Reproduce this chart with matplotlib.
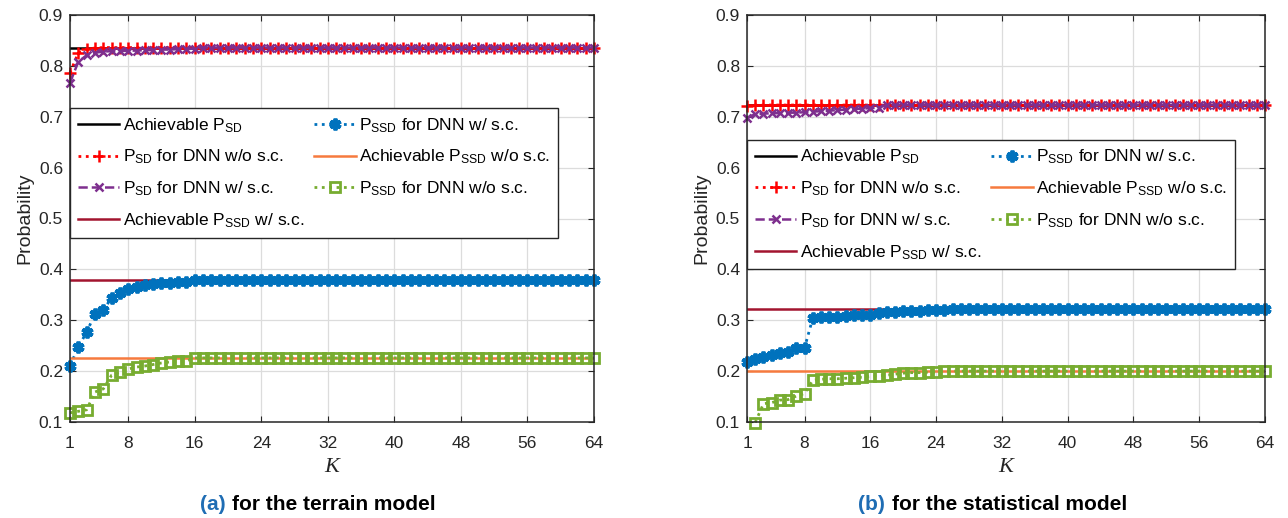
import numpy as np
import matplotlib
matplotlib.use("Agg")
from matplotlib import pyplot as plt

plt.rcParams['font.family'] = ['Liberation Sans', 'DejaVu Sans']
plt.rcParams['mathtext.default'] = 'regular'

K = np.arange(1, 65)
x_ticks = [1, 8, 16, 24, 32, 40, 48, 56, 64]
y_ticks = [0.1, 0.2, 0.3, 0.4, 0.5, 0.6, 0.7, 0.8, 0.9]

# (a) terrain model
psd_ach_a = 0.836
psd_wo_a = [0.786, 0.826, 0.833, 0.835, 0.836, 0.836, 0.836, 0.836,
            0.836, 0.836, 0.836, 0.836, 0.836, 0.836, 0.836, 0.836,
            0.836, 0.836, 0.836, 0.836, 0.836, 0.836, 0.836, 0.836,
            0.836, 0.836, 0.836, 0.836, 0.836, 0.836, 0.836, 0.836,
            0.836, 0.836, 0.836, 0.836, 0.836, 0.836, 0.836, 0.836,
            0.836, 0.836, 0.836, 0.836, 0.836, 0.836, 0.836, 0.836,
            0.836, 0.836, 0.836, 0.836, 0.836, 0.836, 0.836, 0.836,
            0.836, 0.836, 0.836, 0.836, 0.836, 0.836, 0.836, 0.836]
psd_w_a = [0.767, 0.808, 0.821, 0.826, 0.828, 0.829, 0.829, 0.830,
           0.830, 0.831, 0.831, 0.832, 0.832, 0.833, 0.833, 0.834,
           0.836, 0.836, 0.836, 0.836, 0.836, 0.836, 0.836, 0.836,
           0.836, 0.836, 0.836, 0.836, 0.836, 0.836, 0.836, 0.836,
           0.836, 0.836, 0.836, 0.836, 0.836, 0.836, 0.836, 0.836,
           0.836, 0.836, 0.836, 0.836, 0.836, 0.836, 0.836, 0.836,
           0.836, 0.836, 0.836, 0.836, 0.836, 0.836, 0.836, 0.836,
           0.836, 0.836, 0.836, 0.836, 0.836, 0.836, 0.836, 0.836]
pssd_ach_ws_a = 0.380
pssd_w_a = [0.211, 0.247, 0.277, 0.312, 0.320, 0.344, 0.354, 0.362,
            0.365, 0.369, 0.371, 0.373, 0.374, 0.375, 0.376, 0.380,
            0.380, 0.380, 0.380, 0.380, 0.380, 0.380, 0.380, 0.380,
            0.380, 0.380, 0.380, 0.380, 0.380, 0.380, 0.380, 0.380,
            0.380, 0.380, 0.380, 0.380, 0.380, 0.380, 0.380, 0.380,
            0.380, 0.380, 0.380, 0.380, 0.380, 0.380, 0.380, 0.380,
            0.380, 0.380, 0.380, 0.380, 0.380, 0.380, 0.380, 0.380,
            0.380, 0.380, 0.380, 0.380, 0.380, 0.380, 0.380, 0.380]
pssd_ach_wos_a = 0.225
pssd_wo_a = [0.118, 0.121, 0.124, 0.159, 0.165, 0.192, 0.198, 0.204,
             0.208, 0.210, 0.213, 0.216, 0.218, 0.219, 0.220, 0.226,
             0.226, 0.226, 0.226, 0.226, 0.226, 0.226, 0.226, 0.226,
             0.226, 0.226, 0.226, 0.226, 0.226, 0.226, 0.226, 0.226,
             0.226, 0.226, 0.226, 0.226, 0.226, 0.226, 0.226, 0.226,
             0.226, 0.226, 0.226, 0.226, 0.226, 0.226, 0.226, 0.226,
             0.226, 0.226, 0.226, 0.226, 0.226, 0.226, 0.226, 0.226,
             0.226, 0.226, 0.226, 0.226, 0.226, 0.226, 0.226, 0.226]

# (b) statistical model
psd_ach_b = 0.723
psd_wo_b = [0.722, 0.723, 0.723, 0.723, 0.723, 0.723, 0.723, 0.723,
            0.723, 0.723, 0.723, 0.723, 0.723, 0.723, 0.723, 0.723,
            0.723, 0.723, 0.723, 0.723, 0.723, 0.723, 0.723, 0.723,
            0.723, 0.723, 0.723, 0.723, 0.723, 0.723, 0.723, 0.723,
            0.723, 0.723, 0.723, 0.723, 0.723, 0.723, 0.723, 0.723,
            0.723, 0.723, 0.723, 0.723, 0.723, 0.723, 0.723, 0.723,
            0.723, 0.723, 0.723, 0.723, 0.723, 0.723, 0.723, 0.723,
            0.723, 0.723, 0.723, 0.723, 0.723, 0.723, 0.723, 0.723]
psd_w_b = [0.698, 0.705, 0.706, 0.707, 0.707, 0.708, 0.708, 0.709,
           0.710, 0.711, 0.712, 0.713, 0.714, 0.715, 0.716, 0.717,
           0.718, 0.723, 0.723, 0.723, 0.723, 0.723, 0.723, 0.723,
           0.723, 0.723, 0.723, 0.723, 0.723, 0.723, 0.723, 0.723,
           0.723, 0.723, 0.723, 0.723, 0.723, 0.723, 0.723, 0.723,
           0.723, 0.723, 0.723, 0.723, 0.723, 0.723, 0.723, 0.723,
           0.723, 0.723, 0.723, 0.723, 0.723, 0.723, 0.723, 0.723,
           0.723, 0.723, 0.723, 0.723, 0.723, 0.723, 0.723, 0.723]
pssd_ach_ws_b = 0.323
pssd_w_b = [0.217, 0.224, 0.228, 0.232, 0.236, 0.237, 0.245, 0.246,
            0.304, 0.306, 0.306, 0.307, 0.309, 0.310, 0.310, 0.311,
            0.314, 0.316, 0.317, 0.318, 0.318, 0.319, 0.320, 0.320,
            0.321, 0.323, 0.323, 0.323, 0.323, 0.323, 0.323, 0.323,
            0.323, 0.323, 0.323, 0.323, 0.323, 0.323, 0.323, 0.323,
            0.323, 0.323, 0.323, 0.323, 0.323, 0.323, 0.323, 0.323,
            0.323, 0.323, 0.323, 0.323, 0.323, 0.323, 0.323, 0.323,
            0.323, 0.323, 0.323, 0.323, 0.323, 0.323, 0.323, 0.323]
pssd_ach_wos_b = 0.200
pssd_wo_b = [np.nan, 0.099, 0.136, 0.138, 0.143, 0.144, 0.151, 0.156,
             0.182, 0.184, 0.185, 0.185, 0.186, 0.187, 0.188, 0.190,
             0.191, 0.192, 0.194, 0.196, 0.197, 0.197, 0.198, 0.198,
             0.200, 0.200, 0.200, 0.200, 0.200, 0.200, 0.200, 0.200,
             0.200, 0.200, 0.200, 0.200, 0.200, 0.200, 0.200, 0.200,
             0.200, 0.200, 0.200, 0.200, 0.200, 0.200, 0.200, 0.200,
             0.200, 0.200, 0.200, 0.200, 0.200, 0.200, 0.200, 0.200,
             0.200, 0.200, 0.200, 0.200, 0.200, 0.200, 0.200, 0.200]

labels = [r'Achievable $P_{SD}$',
          r'$P_{SD}$ for DNN w/o s.c.',
          r'$P_{SD}$ for DNN w/ s.c.',
          r'Achievable $P_{SSD}$ w/ s.c.',
          r'$P_{SSD}$ for DNN w/ s.c.',
          r'Achievable $P_{SSD}$ w/o s.c.',
          r'$P_{SSD}$ for DNN w/o s.c.']

C_BLUE = '#0072BD'
C_ORANGE = '#F67A3E'
C_GREEN = '#77AC30'
C_PURPLE = '#7E2F8E'
C_DRED = '#A2142F'
AX_COL = '#262626'


def draw(ax, psd_ach, psd_wo, psd_w, ws_ach, pssd_w, wos_ach, pssd_wo, leg_top):
    ax.plot(K, [psd_ach] * len(K), color='black', lw=1.8, label=labels[0])
    ax.plot(K, psd_wo, color='red', ls=':', lw=2, marker='+', ms=8, mew=1.8,
            clip_on=False, label=labels[1])
    ax.plot(K, psd_w, color=C_PURPLE, ls='--', lw=1.8, marker='x', ms=6, mew=1.8,
            clip_on=False, label=labels[2])
    ax.plot(K, [ws_ach] * len(K), color=C_DRED, lw=1.8, label=labels[3])
    ax.plot(K, pssd_w, color=C_BLUE, ls=':', lw=2, marker=(6, 2, 0), ms=8.5, mew=2.8,
            clip_on=False, label=labels[4])
    ax.plot(K, [wos_ach] * len(K), color=C_ORANGE, lw=1.8, label=labels[5])
    ax.plot(K, pssd_wo, color=C_GREEN, ls=':', lw=2, marker='s', ms=6.5, mew=2,
            mfc='none', clip_on=False, label=labels[6])

    ax.set_xlim(1, 64)
    ax.set_ylim(0.1, 0.9)
    ax.set_xticks(x_ticks)
    ax.set_yticks(y_ticks)
    ax.set_yticklabels(['%.1f' % v for v in y_ticks])
    ax.grid(True, color='#DCDCDC', lw=0.9)
    ax.set_axisbelow(True)
    ax.tick_params(direction='in', length=4, labelsize=12.5, colors=AX_COL,
                   top=True, right=True, pad=5)
    ax.tick_params(axis='x', pad=10)
    for s in ax.spines.values():
        s.set_color(AX_COL)
        s.set_linewidth(1.1)
    ax.set_xlabel('K', family='Liberation Serif', style='italic', fontsize=16,
                  color=AX_COL, labelpad=5)
    ax.set_ylabel('Probability', fontsize=14, color=AX_COL, labelpad=4)
    leg = ax.legend(ncol=2, loc='upper left', bbox_to_anchor=(0, leg_top),
                    borderaxespad=0, fontsize=12.5, frameon=True, fancybox=False,
                    framealpha=1, edgecolor=AX_COL, handlelength=2.4,
                    handletextpad=0.2, columnspacing=0.55, labelspacing=0.75,
                    borderpad=0.45)
    leg.get_frame().set_linewidth(1.0)


fig = plt.figure(figsize=(12.88, 5.18), dpi=100)
ax1 = fig.add_axes([70 / 1288, 96 / 518, 524 / 1288, 407 / 518])
ax2 = fig.add_axes([747 / 1288, 96 / 518, 518 / 1288, 407 / 518])

draw(ax1, psd_ach_a, psd_wo_a, psd_w_a, pssd_ach_ws_a, pssd_w_a,
     pssd_ach_wos_a, pssd_wo_a, 0.771)
draw(ax2, psd_ach_b, psd_wo_b, psd_w_b, pssd_ach_ws_b, pssd_w_b,
     pssd_ach_wos_b, pssd_wo_b, 0.693)

# captions
cap_y = 1 - 505 / 518
fig.text(200 / 1288, cap_y, '(a)', color='#1F6DB4', fontsize=15, weight='bold',
         ha='left', va='center')
fig.text(232 / 1288, cap_y, 'for the terrain model', color='black', fontsize=15,
         weight='bold', ha='left', va='center')
fig.text(858 / 1288, cap_y, '(b)', color='#1F6DB4', fontsize=15, weight='bold',
         ha='left', va='center')
fig.text(892 / 1288, cap_y, 'for the statistical model', color='black', fontsize=15,
         weight='bold', ha='left', va='center')

fig.savefig('out.png', dpi=100)
